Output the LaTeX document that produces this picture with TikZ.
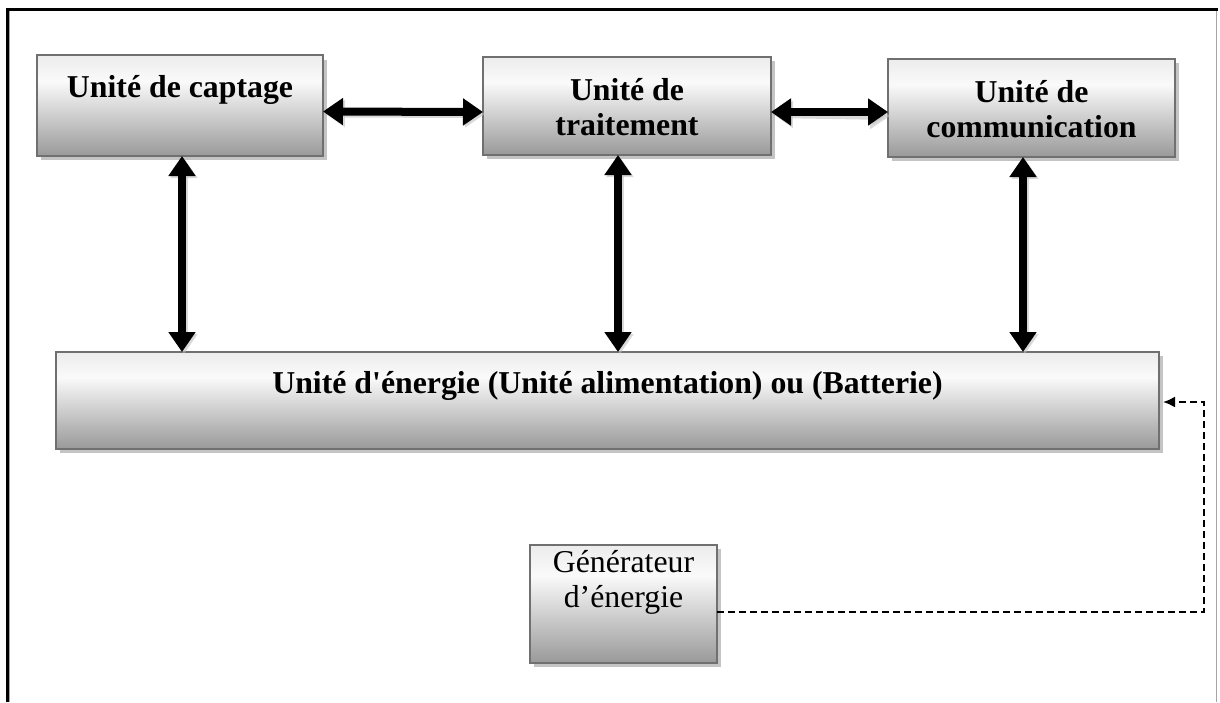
\documentclass[tikz,border=0pt]{standalone}
\usepackage{fontspec}
\setmainfont{Liberation Serif}
\usetikzlibrary{arrows.meta}

\definecolor{boxbot}{HTML}{999999}
\definecolor{boxmid}{HTML}{FAFAFA}
\definecolor{boxtop}{HTML}{ECECEC}
\definecolor{boxedge}{HTML}{707070}
\definecolor{boxshadow}{HTML}{C4C4C4}

% light top, darker bottom; the path maps onto 25bp..75bp
\pgfdeclareverticalshading{unitshade}{100bp}{%
  color(0bp)=(boxbot); color(25bp)=(boxbot); color(62bp)=(boxmid);
  color(75bp)=(boxtop); color(100bp)=(boxtop)}

\begin{document}
\begin{tikzpicture}[x=0.5pt, y=-0.5pt,
  unitbox/.style={draw=boxedge, line width=1pt, shading=unitshade,
    inner sep=0pt, outer sep=0pt},
  boxshadow/.style={fill=boxshadow, draw=none},
  boldlabel/.style={font=\fontsize{15.9}{17.5}\selectfont\bfseries,
    inner sep=0pt, anchor=base, align=center},
  plainlabel/.style={font=\fontsize{15.9}{17.5}\selectfont,
    inner sep=0pt, anchor=base, align=center},
  bigarrow/.style={line width=4pt,
    {Triangle[length=10pt,width=13pt]}-{Triangle[length=10pt,width=13pt]}},
  arrowshadow/.style={bigarrow, draw=black!25, opacity=0.6},
  feed/.style={line width=1pt, dash pattern=on 3.5pt off 2pt,
    -{Latex[length=6pt,width=5.5pt]}},
  frameblack/.style={line width=1.25pt, draw=black},
  framegray/.style={line width=0.5pt, draw=black!35}]

\useasboundingbox (0,0) rectangle (1220,702);

% outer frame
\draw[framegray] (1216,8) -- (1216,702);
\draw[framegray] (9.5,9) -- (9.5,702);
\draw[frameblack] (7.7,702) -- (7.7,9.3) -- (1218,9.3);

% drop shadows of the boxes
\fill[boxshadow] (41,60) rectangle (327,160);
\fill[boxshadow] (487,61) rectangle (775,159);
\fill[boxshadow] (892,63) rectangle (1179,161);
\fill[boxshadow] (60,356) rectangle (1163,453);
\fill[boxshadow] (534,549) rectangle (721,667);

% boxes
\node[unitbox, minimum width=143pt, minimum height=50.5pt] (capt) at (180,105.5) {};
\node[unitbox, minimum width=144pt, minimum height=49pt] (trait) at (627,106) {};
\node[unitbox, minimum width=143.5pt, minimum height=49pt] (comm) at (1031.5,108) {};
\node[unitbox, minimum width=551.5pt, minimum height=48.5pt] (energy) at (607.5,400.5) {};
\node[unitbox, minimum width=93.5pt, minimum height=59pt] (gen) at (623.5,604) {};

% box texts
\node[boldlabel] (captlbl) at (180,97) {Unité de captage};
\node[boldlabel] (traitlbl) at (627,135) {Unité de\\traitement};
\node[boldlabel] (commlbl) at (1031.5,137) {Unité de\\communication};
\node[boldlabel] (energylbl) at (607.5,393)
  {Unité d\textquotesingle énergie (Unité alimentation) ou (Batterie)};
\node[plainlabel] (genlbl) at (623.5,607) {Générateur\\d’énergie};

% arrow shadows
\draw[arrowshadow] ([xshift=1pt,yshift=-4pt]capt.east) -- ([xshift=1pt,yshift=-4pt]trait.west);
\draw[arrowshadow] ([xshift=1pt,yshift=-4pt]trait.east) -- ([xshift=1pt,yshift=-4pt]comm.west);
\draw[arrowshadow] ([xshift=2pt,yshift=-1pt]capt.south) -- ([xshift=2pt,yshift=-1pt]capt.south |- energy.north);
\draw[arrowshadow] ([xshift=-3.5pt,yshift=-1pt]trait.south) -- ([xshift=-3.5pt,yshift=-1pt]trait.south |- energy.north);
\draw[arrowshadow] ([xshift=-3.25pt,yshift=-1pt]comm.south) -- ([xshift=-3.25pt,yshift=-1pt]comm.south |- energy.north);

% data links between the units
\draw[bigarrow] ([yshift=-3pt]capt.east) -- ([yshift=-3pt]trait.west);
\draw[bigarrow] ([yshift=-3pt]trait.east) -- ([yshift=-2pt]comm.west);

% power links to the energy unit
\draw[bigarrow] ([xshift=1pt]capt.south) -- ([xshift=1pt]capt.south |- energy.north);
\draw[bigarrow] ([xshift=-4.5pt]trait.south) -- ([xshift=-4.5pt]trait.south |- energy.north);
\draw[bigarrow] ([xshift=-4.25pt]comm.south) -- ([xshift=-4.25pt]comm.south |- energy.north);

% generator feeding the battery
\coordinate (feedstart) at (717,612);
\coordinate (feedcorner) at (1204,612);
\draw[feed] (feedstart) -- (feedcorner) |- ([xshift=2pt,yshift=-0.75pt]energy.east);

\end{tikzpicture}
\end{document}
